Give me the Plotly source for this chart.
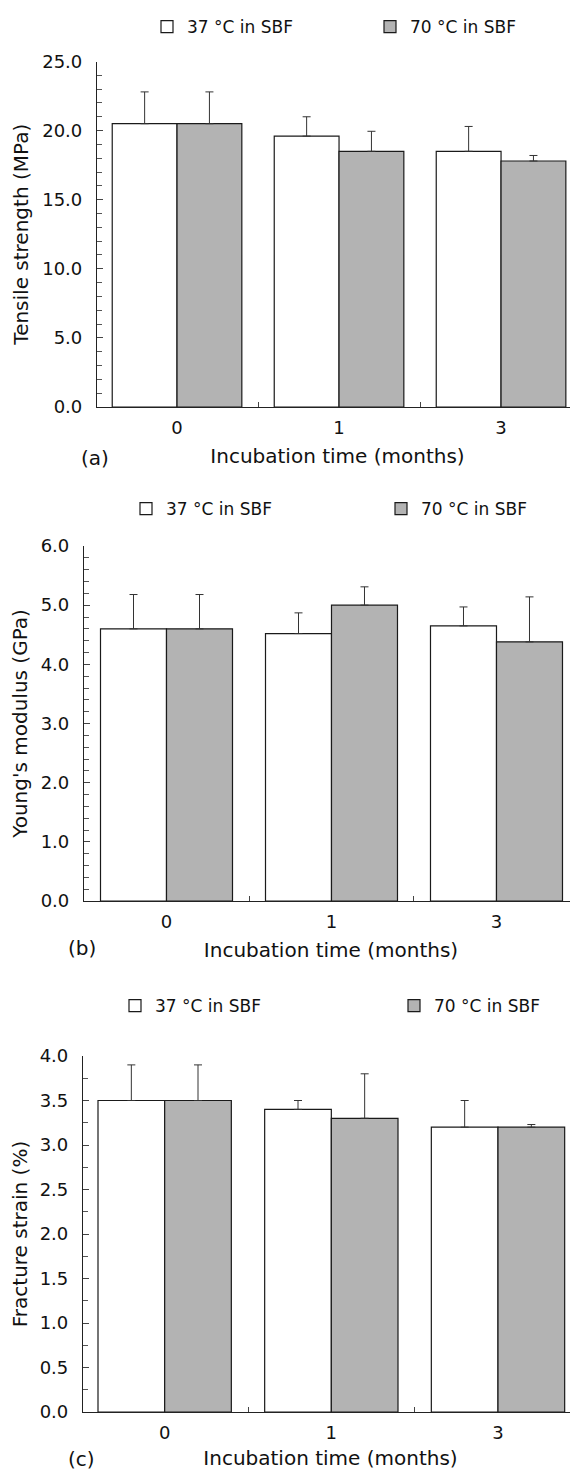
import plotly.graph_objects as go

# ---------------- data ----------------
months = ["0", "1", "3"]
series_names = ["37 °C in SBF", "70 °C in SBF"]

tensile_37 = [20.5, 19.6, 18.5]
tensile_37_err = [2.3, 1.4, 1.8]
tensile_70 = [20.5, 18.5, 17.8]
tensile_70_err = [2.3, 1.45, 0.4]

modulus_37 = [4.6, 4.52, 4.65]
modulus_37_err = [0.58, 0.35, 0.32]
modulus_70 = [4.6, 5.0, 4.38]
modulus_70_err = [0.58, 0.31, 0.76]

strain_37 = [3.5, 3.4, 3.2]
strain_37_err = [0.4, 0.1, 0.3]
strain_70 = [3.5, 3.3, 3.2]
strain_70_err = [0.4, 0.5, 0.03]

y_titles = ["Tensile strength (MPa)", "Young's modulus (GPa)", "Fracture strain (%)"]
panel_labels = ["(a)", "(b)", "(c)"]
x_title = "Incubation time (months)"

# ---------------- layout helpers ----------------
# The page body adds an 8 px margin, so the figure is sized to fill the rest.
OFF = 8
W, H = 578 - OFF, 1470 - OFF
FONT = "DejaVu Sans"
INK = "#111111"
WHITE_FILL = "#ffffff"
GRAY_FILL = "#b3b3b3"


def px_x(v):
    return (v - OFF) / W


def px_y(v):
    return 1 - (v - OFF) / H


panels = [
    dict(v37=tensile_37, e37=tensile_37_err, v70=tensile_70, e70=tensile_70_err,
         yrange=[0, 25], dtick=5, minor=1, left=97, top=61.5, bottom=407,
         xrange=[-0.494, 2.475], leg=[(167, 27), (390, 27)], lab=(95, 458)),
    dict(v37=modulus_37, e37=modulus_37_err, v70=modulus_70, e70=modulus_70_err,
         yrange=[0, 6], dtick=1, minor=0.2, left=84, top=546, bottom=901,
         xrange=[-0.5, 2.494], leg=[(146, 509), (401, 509)], lab=(82, 948)),
    dict(v37=strain_37, e37=strain_37_err, v70=strain_70, e70=strain_70_err,
         yrange=[0, 4], dtick=0.5, minor=0.25, left=83, top=1056, bottom=1412,
         xrange=[-0.49, 2.48], leg=[(135, 1006), (414, 1006)], lab=(82, 1459)),
]

fig = go.Figure()
layout = dict(
    width=W, height=H,
    margin=dict(l=0, r=0, t=0, b=0, autoexpand=False),
    paper_bgcolor="white", plot_bgcolor="white",
    barmode="group", bargap=0.2, bargroupgap=0,
    showlegend=True,
    font=dict(family=FONT, color=INK, size=18),
    annotations=[],
)

leg_count = 0
for i, p in enumerate(panels):
    n = "" if i == 0 else str(i + 1)
    xa, ya = "x" + n, "y" + n
    for k, (name, vals, errs, fill) in enumerate([
        (series_names[0], p["v37"], p["e37"], WHITE_FILL),
        (series_names[1], p["v70"], p["e70"], GRAY_FILL),
    ]):
        leg_count += 1
        leg = "legend" if leg_count == 1 else "legend" + str(leg_count)
        fig.add_trace(go.Bar(
            x=months, y=vals, name=name, xaxis=xa, yaxis=ya, legend=leg,
            offsetgroup=str(k), showlegend=True,
            marker=dict(color=fill, line=dict(color="#1a1a1a", width=1.2)),
            error_y=dict(type="data", symmetric=False, array=errs,
                         arrayminus=[0] * len(errs), color="#333333",
                         thickness=1, width=4),
        ))
        cx, cy = p["leg"][k]
        layout[leg] = dict(
            orientation="h", x=px_x(cx - 20), y=px_y(cy),
            xanchor="left", yanchor="middle",
            font=dict(size=17), bgcolor="rgba(0,0,0,0)",
        )

    layout["xaxis" + n] = dict(
        domain=[px_x(p["left"]), 1], anchor=ya, type="category",
        range=p["xrange"], showline=True, linecolor="#222222", linewidth=1.2,
        ticks="inside", tickson="boundaries", ticklen=5, tickcolor="#444444",
        showgrid=False, zeroline=False, ticklabelstandoff=4,
        tickfont=dict(size=18),
        title=dict(text=x_title, font=dict(size=20), standoff=12),
    )
    layout["yaxis" + n] = dict(
        domain=[px_y(p["bottom"]), px_y(p["top"])], anchor=xa,
        range=p["yrange"], dtick=p["dtick"], tick0=0, tickformat=".1f",
        showline=True, linecolor="#222222", linewidth=1.2,
        ticks="inside", ticklen=6, tickcolor="#444444",
        minor=dict(dtick=p["minor"], ticks="inside", ticklen=5, tickcolor="#555555"),
        showgrid=False, zeroline=False, ticklabelstandoff=10,
        tickfont=dict(size=18),
        title=dict(text=y_titles[i], font=dict(size=20), standoff=8),
    )
    layout["annotations"].append(dict(
        text=panel_labels[i], xref="paper", yref="paper",
        x=px_x(p["lab"][0]), y=px_y(p["lab"][1]),
        xanchor="center", yanchor="middle", showarrow=False,
        font=dict(size=20),
    ))

fig.update_layout(**layout)
fig.write_html("out.html")
